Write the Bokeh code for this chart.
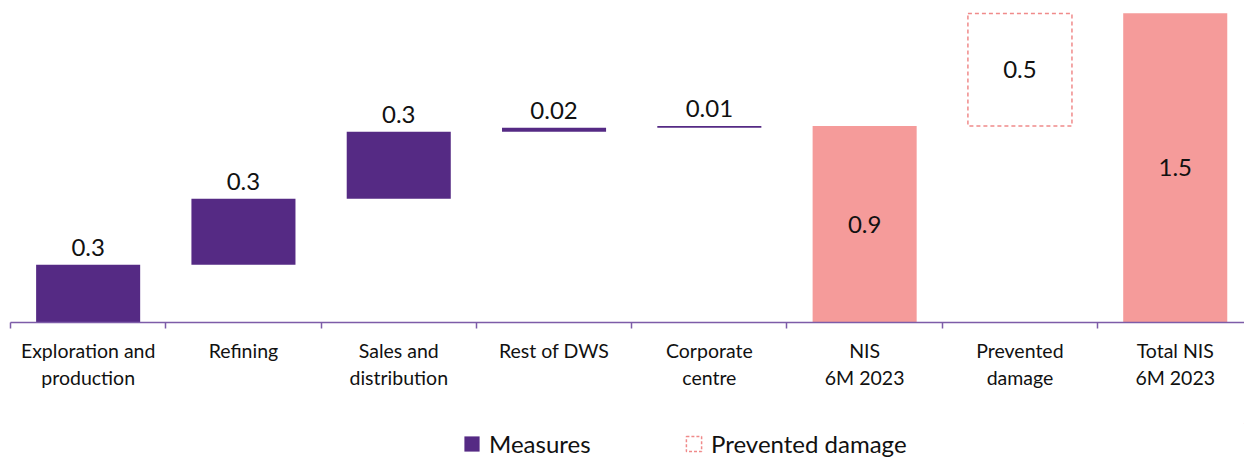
from bokeh.plotting import figure
from bokeh.layouts import column
from bokeh.models import Range1d, FixedTicker, Legend, LegendItem, ColumnDataSource
from bokeh.core.properties import value
from bokeh.embed import file_html
from bokeh.resources import INLINE

categories = ["Exploration and\nproduction", "Refining", "Sales and\ndistribution",
              "Rest of DWS", "Corporate\ncentre", "NIS\n6M 2023",
              "Prevented\ndamage", "Total NIS\n6M 2023"]
values = [0.28, 0.32, 0.325, 0.02, 0.008, 0.953, 0.545, 1.5]
value_labels = ["0.3", "0.3", "0.3", "0.02", "0.01", "0.9", "0.5", "1.5"]
kinds = ["measure", "measure", "measure", "measure", "measure", "total", "prevented", "total"]
legend_labels = ["Measures", "Prevented damage"]

PURPLE = "#552a84"
PINK = "#f59b9a"
DASH = "#f08a8a"
AXIS = "#7d5ca8"
FONT = "Lato"

FRAME_H = 314
Y_MAX = 1.5228
LABEL_GAP = 17 * Y_MAX / FRAME_H  # label centre 17 px above the bar top, in data units

centers = [i + 0.5 for i in range(len(categories))]
bottoms, tops = [], []
running = 0.0
for v, k in zip(values, kinds):
    if k == "total":
        bottoms.append(0.0); tops.append(v); running = v
    else:
        bottoms.append(running); tops.append(running + v); running += v

def sel(kind):
    idx = [i for i, k in enumerate(kinds) if k == kind]
    return ColumnDataSource(dict(
        x=[centers[i] for i in idx], bottom=[bottoms[i] for i in idx],
        top=[tops[i] for i in idx], label=[value_labels[i] for i in idx],
        above=[tops[i] + LABEL_GAP for i in idx],
        mid=[(bottoms[i] + tops[i]) / 2 for i in idx]))

src_m, src_t, src_p = sel("measure"), sel("total"), sel("prevented")

p = figure(frame_width=1234, frame_height=FRAME_H,
           x_range=Range1d(0, 7.946), y_range=Range1d(0, Y_MAX),
           output_backend="svg", toolbar_location=None, y_axis_location=None,
           min_border_left=10, min_border_right=0, min_border_top=8, min_border_bottom=101)
p.outline_line_color = None
p.xgrid.grid_line_color = None
p.ygrid.grid_line_color = None

p.vbar(x="x", width=0.67, bottom="bottom", top="top", source=src_m,
       fill_color=PURPLE, line_color=None)
p.vbar(x="x", width=0.67, bottom="bottom", top="top", source=src_t,
       fill_color=PINK, line_color=None)
p.vbar(x="x", width=0.67, bottom="bottom", top="top", source=src_p,
       fill_color=None, line_color=DASH, line_width=1.5, line_dash="4 3")

p.text(x="x", y="above", text="label", source=src_m, text_font=value(FONT),
       text_font_size="24px", text_align="center", text_baseline="middle",
       text_color="#111111")
p.text(x="x", y="mid", text="label", source=src_t, text_font=value(FONT),
       text_font_size="24px", text_align="center", text_baseline="middle",
       text_color="#111111")
p.text(x="x", y="mid", text="label", source=src_p, text_font=value(FONT),
       text_font_size="24px", text_align="center", text_baseline="middle",
       text_color="#111111")

xa = p.xaxis[0]
xa.ticker = FixedTicker(ticks=centers, minor_ticks=list(range(len(categories) + 1)))
xa.major_label_overrides = {c: cat for c, cat in zip(centers, categories)}
xa.major_tick_line_color = None
xa.major_tick_out = 0
xa.major_tick_in = 0
xa.minor_tick_out = 6
xa.minor_tick_in = 0
xa.minor_tick_line_color = AXIS
xa.minor_tick_line_width = 1.5
xa.axis_line_color = AXIS
xa.axis_line_width = 1.5
xa.major_label_text_font = FONT
xa.major_label_text_font_size = "19.5px"
xa.major_label_text_color = "#111111"
xa.major_label_standoff = 10

# legend strip below the chart (swatch renderers sit outside the visible range)
pl = figure(width=1244, height=34, x_range=Range1d(0, 1), y_range=Range1d(0, 1),
            output_backend="svg", toolbar_location=None,
            x_axis_location=None, y_axis_location=None,
            min_border_left=0, min_border_right=0, min_border_top=0, min_border_bottom=0)
pl.outline_line_color = None
pl.xgrid.grid_line_color = None
pl.ygrid.grid_line_color = None
lg_m = pl.vbar(x=[10], top=[10], bottom=[9], width=0.1, fill_color=PURPLE, line_color=None)
lg_p = pl.vbar(x=[10], top=[10], bottom=[9], width=0.1, fill_color=None, line_color=DASH,
               line_width=1.5, line_dash="3 2")

legend = Legend(items=[LegendItem(label=legend_labels[0], renderers=[lg_m]),
                       LegendItem(label=legend_labels[1], renderers=[lg_p])],
                orientation="horizontal", glyph_width=19, glyph_height=19,
                label_standoff=8, label_width=195, spacing=0,
                padding=0, margin=0, border_line_color=None, background_fill_alpha=0,
                label_text_font=FONT, label_text_font_size="24px",
                label_text_color="#111111", location=(452, -1))
pl.add_layout(legend)

layout = column(p, pl, spacing=0)
open("out.html", "w").write(file_html(layout, INLINE))
